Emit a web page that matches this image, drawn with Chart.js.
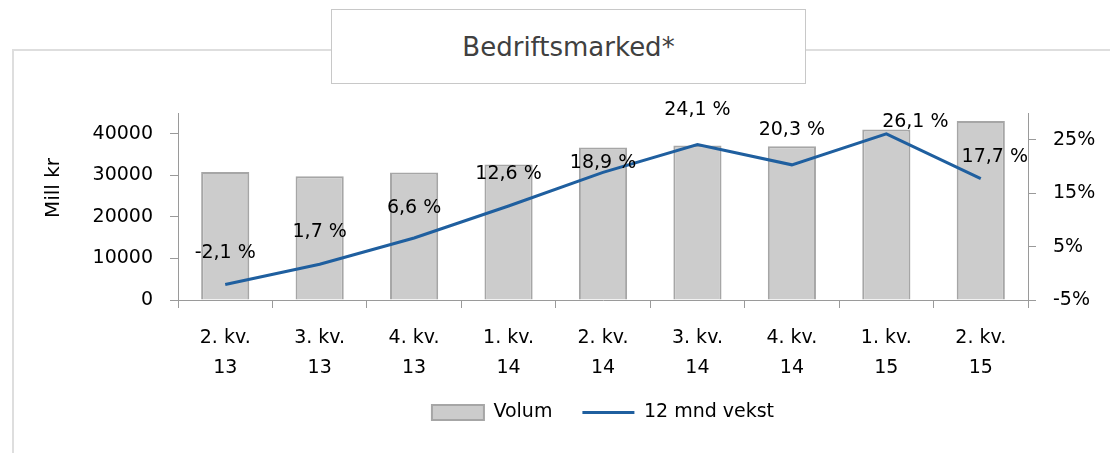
<!DOCTYPE html>
<html>
<head>
<meta charset="utf-8">
<script src="https://cdn.jsdelivr.net/npm/chart.js@4"></script>
<style>
  body { margin: 0; background: #fff; }
  #wrap { position: relative; width: 1110px; height: 453px; overflow: hidden; font-family: "DejaVu Sans", sans-serif; }
  #frame { position: absolute; left: 12px; top: 49px; width: 1200px; height: 600px; border: 2px solid #dedede; box-sizing: border-box; }
  #chart { position: absolute; left: 0; top: 0; }
  #title { position: absolute; left: 331px; top: 9px; width: 475px; height: 75px; box-sizing: border-box;
           border: 1px solid #c8c8c8; background: #fff; display: flex; align-items: center; justify-content: center;
           font-size: 26px; color: #404040; }
</style>
</head>
<body>
<div id="wrap">
  <div id="frame"></div>
  <canvas id="chart" width="1110" height="453"></canvas>
  <div id="title">Bedriftsmarked*</div>
</div>
<script>
const QUARTERS = [['2. kv.', '13'], ['3. kv.', '13'], ['4. kv.', '13'], ['1. kv.', '14'], ['2. kv.', '14'],
                  ['3. kv.', '14'], ['4. kv.', '14'], ['1. kv.', '15'], ['2. kv.', '15']];
const VOLUME = [30800, 29800, 30700, 32600, 36700, 37200, 37000, 41000, 43100];
const GROWTH = [-2.1, 1.7, 6.6, 12.6, 18.9, 24.1, 20.3, 26.1, 17.7];
const VOLUME_TICKS = [0, 10000, 20000, 30000, 40000];
const GROWTH_TICKS = [-5, 5, 15, 25];

const FONT = { family: '"DejaVu Sans", sans-serif', size: 19 };
const AXIS_GREY = '#9a9a9a';

// label nudges as placed in the original (dx, dy from the point)
const labelOffsets = [[0, -31], [0, -32], [0, -30], [0, -32], [0, -9], [0, -34], [0, -35], [29, -12], [14, -22]];

const extras = {
    id: 'extras',
    afterDatasetsDraw(chart) {
        const { ctx } = chart;
        const meta = chart.getDatasetMeta(1);
        ctx.save();
        ctx.font = `${FONT.size}px ${FONT.family}`;
        ctx.fillStyle = '#000';
        ctx.textAlign = 'center';
        ctx.textBaseline = 'middle';
        meta.data.forEach((pt, i) => {
            const [dx, dy] = labelOffsets[i];
            ctx.fillText(GROWTH[i].toFixed(1).replace('.', ',') + ' %', pt.x + dx, pt.y + dy);
        });
        // y axis title
        ctx.font = `20px ${FONT.family}`;
        ctx.translate(54, 188);
        ctx.rotate(-Math.PI / 2);
        ctx.fillText('Mill kr', 0, 0);
        ctx.restore();
    }
};

new Chart(document.getElementById('chart'), {
    data: {
        labels: QUARTERS,
        datasets: [
            {
                type: 'bar', label: 'Volum', data: VOLUME, yAxisID: 'y', order: 1,
                backgroundColor: '#cccccc', borderColor: '#a6a6a6', borderWidth: 2,
                barPercentage: 0.51, categoryPercentage: 1,
                pointStyle: 'rect'
            },
            {
                type: 'line', label: '12 mnd vekst', data: GROWTH, yAxisID: 'y1', order: 0,
                borderColor: '#1f5f9f', backgroundColor: '#1f5f9f', borderWidth: 3,
                pointRadius: 0, tension: 0, pointStyle: 'line'
            }
        ]
    },
    plugins: [extras],
    options: {
        responsive: false,
        animation: false,
        layout: { padding: { top: 113, left: 0, right: 0, bottom: 21 } },
        plugins: {
            tooltip: { enabled: false },
            legend: {
                position: 'bottom',
                fullSize: false,
                labels: {
                    usePointStyle: true, pointStyleWidth: 52, boxHeight: 15,
                    padding: 30, color: '#000', font: FONT,
                    sort: (a, b) => a.datasetIndex - b.datasetIndex
                }
            }
        },
        scales: {
            x: {
                offset: true,
                afterFit: s => { s.height = 73; },
                grid: { offset: true, drawOnChartArea: false, tickLength: 8, color: AXIS_GREY },
                border: { color: AXIS_GREY },
                ticks: { color: '#000', font: { ...FONT, lineHeight: 1.58 }, padding: 15, maxRotation: 0, autoSkip: false }
            },
            y: {
                position: 'left', min: 0, max: 45000,
                afterFit: s => { s.width = 178; },
                afterBuildTicks: s => { s.ticks = VOLUME_TICKS.map(v => ({ value: v })); },
                grid: { drawOnChartArea: false, tickLength: 8, color: AXIS_GREY },
                border: { color: AXIS_GREY },
                ticks: { color: '#000', font: FONT, padding: 17, callback: v => String(v) }
            },
            y1: {
                position: 'right', min: -5, max: 30,
                afterFit: s => { s.width = 82; },
                afterBuildTicks: s => { s.ticks = GROWTH_TICKS.map(v => ({ value: v })); },
                grid: { drawOnChartArea: false, tickLength: 8, color: AXIS_GREY },
                border: { color: AXIS_GREY },
                ticks: { color: '#000', font: FONT, padding: 17, callback: v => v + '%' }
            }
        }
    }
});
</script>
</body>
</html>
